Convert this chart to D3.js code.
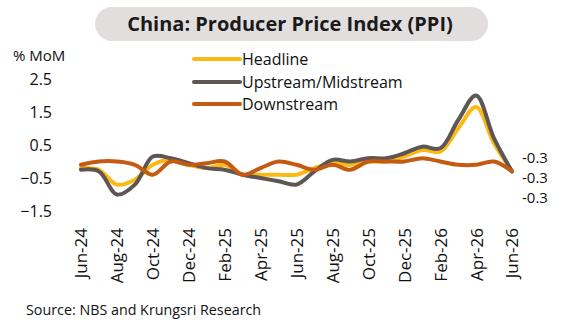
<!DOCTYPE html>
<html>
<head>
<meta charset="utf-8">
<script src="https://cdn.jsdelivr.net/npm/d3@7"></script>
<style>
  html, body { margin: 0; padding: 0; background: #ffffff; }
  svg { display: block; font-family: "Open Sans", "Noto Sans", sans-serif; }
</style>
</head>
<body>
<svg id="chart" width="580" height="327"></svg>
<script>
const months = ["Jun-24","Jul-24","Aug-24","Sep-24","Oct-24","Nov-24","Dec-24","Jan-25","Feb-25","Mar-25","Apr-25","May-25","Jun-25","Jul-25","Aug-25","Sep-25","Oct-25","Nov-25","Dec-25","Jan-26","Feb-26","Mar-26","Apr-26","May-26","Jun-26"];
const monthTicks = ["Jun-24","Aug-24","Oct-24","Dec-24","Feb-25","Apr-25","Jun-25","Aug-25","Oct-25","Dec-25","Feb-26","Apr-26","Jun-26"];
const headline   = [-0.2,-0.25,-0.7,-0.55,-0.1,0.05,-0.1,-0.2,-0.1,-0.4,-0.4,-0.4,-0.4,-0.2,-0.05,-0.1,0.0,0.0,0.15,0.35,0.3,1.0,1.65,0.55,-0.3];
const upstream   = [-0.25,-0.3,-1.0,-0.7,0.15,0.1,-0.05,-0.2,-0.25,-0.4,-0.5,-0.6,-0.7,-0.3,0.05,0.0,0.1,0.1,0.25,0.45,0.4,1.25,2.0,0.7,-0.3];
const downstream = [-0.1,0.0,0.0,-0.1,-0.4,0.0,-0.1,-0.05,0.0,-0.4,-0.2,0.0,-0.1,-0.25,-0.1,-0.25,0.0,0.0,0.0,0.1,0.0,-0.1,-0.1,0.0,-0.3];
const yTicks = [2.5, 1.5, 0.5, -0.5, -1.5];
const seriesNames = ["Headline","Upstream/Midstream","Downstream"];
const seriesColors = ["#FDB913","#5E5555","#C55A11"];
const endLabels = ["-0.3","-0.3","-0.3"];
const titleText = "China: Producer Price Index (PPI)";
const unitText = "% MoM";
const sourceText = "Source: NBS and Krungsri Research";

const seriesValues = [headline, upstream, downstream];
const svg = d3.select("#chart");

// Title pill
svg.append("rect").attr("x", 95).attr("y", 7).attr("width", 393).attr("height", 34)
  .attr("rx", 17).attr("fill", "#E3DEDE");
svg.append("text").attr("x", 290).attr("y", 24).attr("dy", "0.35em")
  .attr("text-anchor", "middle").attr("font-size", 20).attr("font-weight", "bold")
  .attr("fill", "#1a1a1a").text(titleText);

// Scales
const x = d3.scalePoint().domain(months).range([81, 512]);
const y = d3.scaleLinear().domain([-2, 3]).range([227.5, 62.5]);

// Y axis
const yAxis = svg.append("g").attr("transform", "translate(52,0)")
  .call(d3.axisLeft(y).tickValues(yTicks).tickSize(0).tickPadding(0).tickFormat(d3.format(".1f")));
yAxis.select(".domain").remove();
yAxis.selectAll("text").attr("font-size", 16).attr("fill", "#111")
  .style("font-family", "'Open Sans', 'Noto Sans', sans-serif");

svg.append("text").attr("x", 13).attr("y", 56).attr("dy", "0.35em")
  .attr("font-size", 15).attr("fill", "#111").text(unitText);

// X axis
const xAxis = svg.append("g").attr("transform", "translate(0,228)")
  .call(d3.axisBottom(x).tickValues(monthTicks).tickSize(0));
xAxis.select(".domain").remove();
xAxis.selectAll("text")
  .attr("x", 0).attr("y", 0).attr("dy", "0.35em")
  .attr("transform", "rotate(-90)")
  .style("text-anchor", "end")
  .attr("font-size", 17).attr("fill", "#111")
  .style("font-family", "'Open Sans', 'Noto Sans', sans-serif");

// Lines
const line = d3.line()
  .x((d, i) => x(months[i]))
  .y(d => y(d))
  .curve(d3.curveCatmullRom.alpha(0.5));

seriesValues.forEach((vals, k) => {
  svg.append("path").datum(vals)
    .attr("fill", "none")
    .attr("stroke", seriesColors[k])
    .attr("stroke-width", 4)
    .attr("stroke-linejoin", "round")
    .attr("stroke-linecap", "round")
    .attr("d", line);
});

// End labels
const lastY = y(headline[headline.length - 1]);
const endOffsets = [-14, 6, 26];
endLabels.forEach((t, k) => {
  svg.append("text").attr("x", 522).attr("y", lastY + endOffsets[k]).attr("dy", "0.35em")
    .attr("font-size", 15).attr("fill", "#111").text(t);
});

// Legend
const legendY = [59, 82, 104];
seriesNames.forEach((name, k) => {
  svg.append("line").attr("x1", 194).attr("x2", 240)
    .attr("y1", legendY[k]).attr("y2", legendY[k])
    .attr("stroke", seriesColors[k]).attr("stroke-width", 4).attr("stroke-linecap", "round");
  svg.append("text").attr("x", 242).attr("y", legendY[k]).attr("dy", "0.35em")
    .attr("font-size", 16).attr("fill", "#111").text(name);
});

// Source
svg.append("text").attr("x", 26).attr("y", 310).attr("dy", "0.35em")
  .attr("font-size", 14.3).attr("fill", "#111").text(sourceText);
</script>
</body>
</html>
